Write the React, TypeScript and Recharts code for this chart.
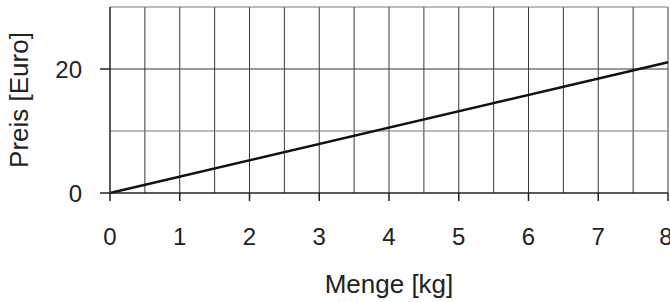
import React from 'react';
import { LineChart, Line, XAxis, YAxis, ReferenceLine } from 'recharts';

const mengeKg = [0, 8];
const preisEuro = [0, 21.1];
const xTicks = [0, 1, 2, 3, 4, 5, 6, 7, 8];
const yTicks = [0, 20];
const xGrid = [0.5, 1, 1.5, 2, 2.5, 3, 3.5, 4, 4.5, 5, 5.5, 6, 6.5, 7, 7.5, 8];
const yGrid = [10, 20, 30];

const data = mengeKg.map((m, i) => ({ menge: m, preis: preisEuro[i] }));

const FONT = '"Liberation Sans", Arial, Helvetica, sans-serif';

const XTick = (props: any) => {
  const { x, y, payload } = props;
  return (
    <text x={x} y={y} dy="0.71em" textAnchor="middle" fill="#222" fontSize={24} fontFamily={FONT}>
      {payload.value}
    </text>
  );
};

export default function App() {
  return (
    <div style={{ position: 'absolute', left: 0, top: 0, width: 670, height: 302, background: '#fff', overflow: 'hidden' }}>
      <LineChart width={670} height={302} data={data} margin={{ top: 7, right: 2, bottom: 0, left: 0 }} style={{ overflow: 'visible' }}>
        <XAxis
          dataKey="menge"
          type="number"
          domain={[0, 8]}
          ticks={xTicks}
          height={109}
          tickSize={8}
          tickMargin={27}
          stroke="#222"
          strokeWidth={1.5}
          tick={<XTick />}
          label={{ value: 'Menge [kg]', position: 'insideBottom', offset: 9, fill: '#222', fontSize: 26, fontFamily: FONT }}
        />
        <YAxis
          type="number"
          domain={[0, 30]}
          ticks={yTicks}
          width={110}
          tickSize={10}
          tickMargin={18}
          stroke="#222"
          strokeWidth={1.5}
          tick={{ fill: '#222', fontSize: 24, fontFamily: FONT }}
          label={{ value: 'Preis [Euro]', angle: -90, position: 'insideLeft', offset: 19, fill: '#222', fontSize: 26, fontFamily: FONT, style: { textAnchor: 'middle' } }}
        />
        {xGrid.map((x) => (
          <ReferenceLine key={'x' + x} x={x} stroke="#3a3a3a" strokeWidth={1} />
        ))}
        {yGrid.map((y) => (
          <ReferenceLine key={'y' + y} y={y} stroke={y === 20 ? '#333' : '#777'} strokeWidth={1} />
        ))}
        <Line
          type="linear"
          dataKey="preis"
          stroke="#111"
          strokeWidth={2.5}
          dot={false}
          isAnimationActive={false}
        />
      </LineChart>
    </div>
  );
}
